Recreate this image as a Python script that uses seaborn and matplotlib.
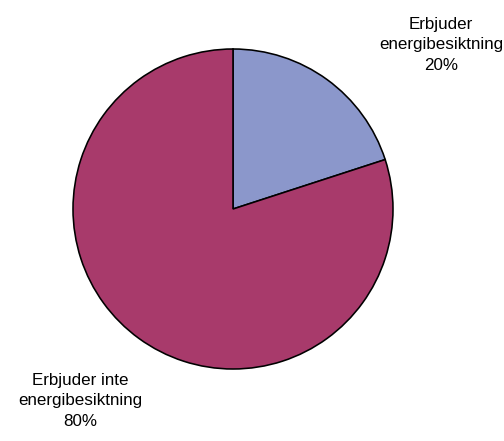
import matplotlib
matplotlib.use("Agg")
import matplotlib.pyplot as plt
import seaborn as sns

categories = ["Erbjuder\nenergibesiktning", "Erbjuder inte\nenergibesiktning"]
shares = [20, 80]
slice_colors = ["#8B97CB", "#A83A6B"]

sns.set_theme(style="white")
plt.rcParams["font.family"] = ["Liberation Sans", "DejaVu Sans"]

W, H = 504, 441
fig = plt.figure(figsize=(W / 72, H / 72), dpi=72)
ax = fig.add_axes([0, 0, 1, 1])

palette = sns.color_palette(slice_colors)
cx, cy, r = 233, H - 209, 160
ax.pie(shares, colors=palette, startangle=90, counterclock=False,
       center=(cx, cy), radius=r, frame=True,
       wedgeprops=dict(edgecolor="black", linewidth=1.6))
ax.set_xlim(0, W)
ax.set_ylim(0, H)
ax.set_aspect("equal")
ax.axis("off")

label_pos = [(441, H - 45), (80, H - 401)]
for name, val, (x, y) in zip(categories, shares, label_pos):
    ax.text(x, y, f"{name}\n{val}%", ha="center", va="center",
            fontsize=17, linespacing=1.45, color="black")

fig.savefig("out.png", dpi=72, facecolor="white")
